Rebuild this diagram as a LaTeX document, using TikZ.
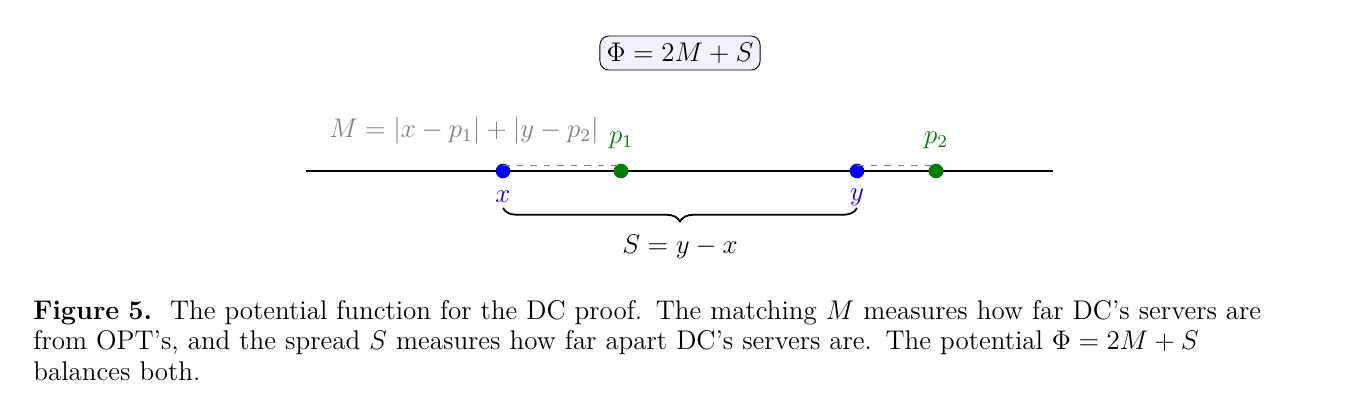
\documentclass[tikz,border=0pt]{standalone}
\usepackage{amsmath}
\usetikzlibrary{decorations.pathreplacing}
\begin{document}
\begin{tikzpicture}
		[
		x=0.4444pt, y=-0.4444pt, >=latex, font=\fontsize{12}{12}\selectfont,
		%Voreinstellungen
		dot/.style={circle, inner sep=0pt, minimum size=6.5pt},
		server/.style={dot, fill=blue},
		opt/.style={dot, fill=green!50!black}
		]
		
		%Rahmen
		\useasboundingbox (0,0) rectangle (1357,412);
		
		%Potential
		\node[draw, rounded corners=4pt, fill=blue!5, inner sep=3pt] (phi) at (680,53) {$\Phi = 2M + S$};
		
		%Linie
		\coordinate (l) at (306,171);
		\coordinate (r) at (1053,171);
		\draw[thick] (l) -- (r);
		
		%Server
		\node[server] (x) at (503,171) {};
		\node[server] (y) at (857,171) {};
		\node[opt] (p1) at (621,171) {};
		\node[opt] (p2) at (936,171) {};
		
		%Matching
		\draw[dashed, gray] ([yshift=2.5pt]x.center) -- ([yshift=2.5pt]p1.center);
		\draw[dashed, gray] ([yshift=2.5pt]y.center) -- ([yshift=2.5pt]p2.center);
		
		%Beschriftungen
		\node[blue] (xl) at (503,197) {$x$};
		\node[blue] (yl) at (857,197) {$y$};
		\node[green!50!black] (p1l) at (621,140) {$p_1$};
		\node[green!50!black] (p2l) at (936,140) {$p_2$};
		\node[gray] (m) at (464,131) {$M = |x-p_1| + |y-p_2|$};
		
		%Spreizung
		\draw[decorate, decoration={brace, mirror, amplitude=6pt}, thick] (503,208) -- (857,208);
		\node (s) at (680,247) {$S = y - x$};
		
		%Unterschrift
		\node[anchor=north west, text width=580pt, align=left, inner sep=0pt, font=\fontsize{12}{13.5}\selectfont] (cap) at (33,300)
		{\textbf{Figure 5.}\ \ The potential function for the DC proof. The matching $M$ measures how far DC's servers are\\
		from OPT's, and the spread $S$ measures how far apart DC's servers are. The potential $\Phi = 2M + S$\\
		balances both.};
	\end{tikzpicture}
\end{document}
